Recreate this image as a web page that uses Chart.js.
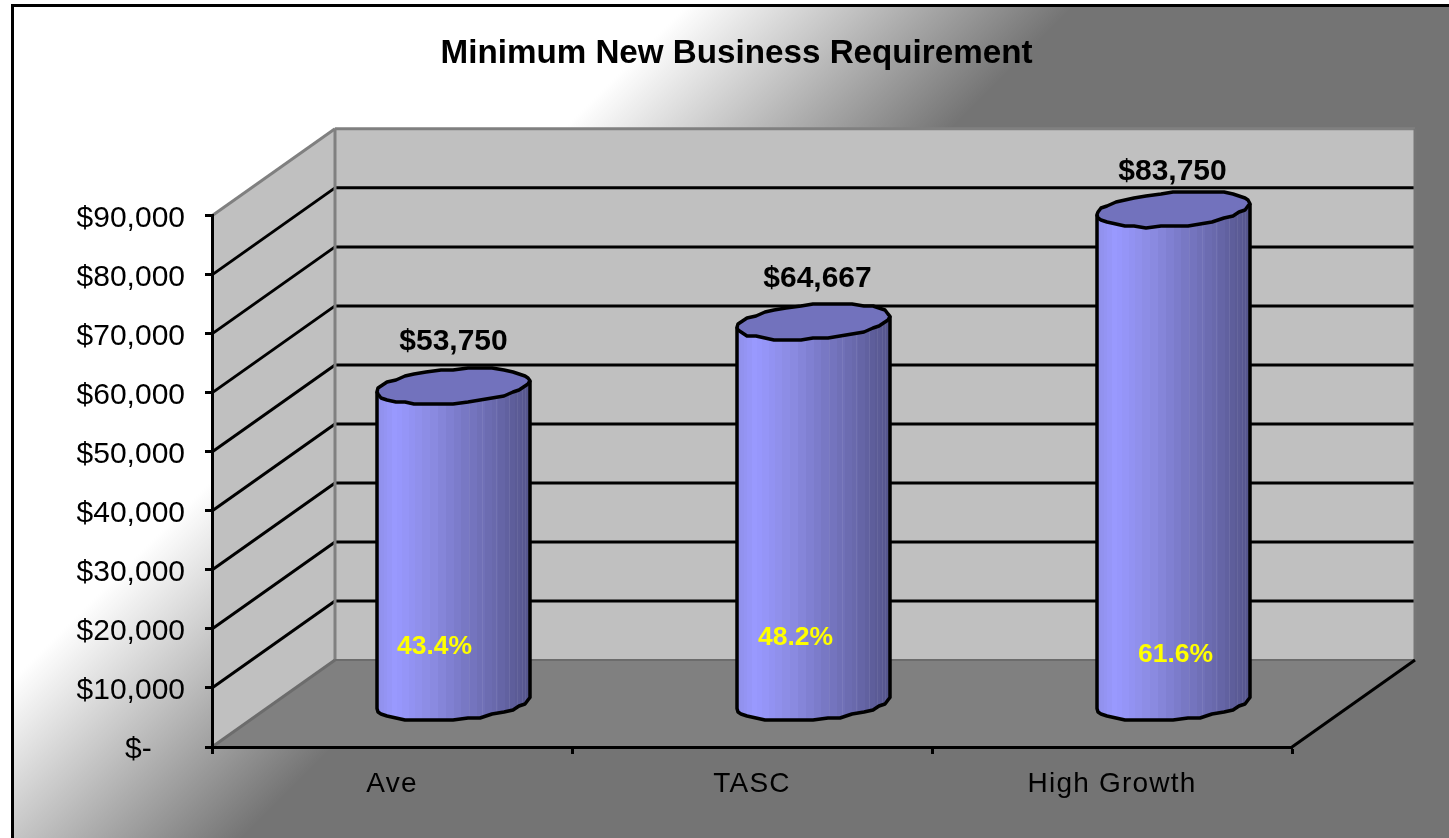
<!DOCTYPE html>
<html>
<head>
<meta charset="utf-8">
<title>Minimum New Business Requirement</title>
<script src="https://cdn.jsdelivr.net/npm/chart.js@4"></script>
<style>
    html, body { margin: 0; padding: 0; background: #fff; overflow: hidden; }
    canvas { display: block; }
</style>
</head>
<body>
<canvas id="requirementChart" width="1449" height="838"></canvas>
<script>
const categories = ["Ave", "TASC", "High Growth"];
const requirementValues = [53750, 64667, 83750];
const sharePercents = [43.4, 48.2, 61.6];
const yTickLabels = ["$-    ", "$10,000", "$20,000", "$30,000", "$40,000", "$50,000", "$60,000", "$70,000", "$80,000", "$90,000"];

// oblique depth of the 3D box, in pixels
const DEPTH_X = 123;
const DEPTH_Y = 87;
const FONT = '"Liberation Sans", Arial, sans-serif';

// label placement relative to the top / base of each cylinder
const valueLabelShift = [0, 4, -1];
const valueLabelLift = [45, 43, 37];
const shareLabelShift = [-19, -18, 2];
const shareLabelLift = [56, 65, 48];

const WALL = "#c0c0c0";
const FLOOR = "#808080";
const EDGE = "#808080";

function line(ctx, x1, y1, x2, y2, color, width) {
    ctx.strokeStyle = color;
    ctx.lineWidth = width;
    ctx.beginPath();
    ctx.moveTo(x1, y1);
    ctx.lineTo(x2, y2);
    ctx.stroke();
}

function fillPoly(ctx, pts, color) {
    ctx.fillStyle = color;
    ctx.beginPath();
    pts.forEach(function (p, i) {
        if (i === 0) ctx.moveTo(p[0], p[1]);
        else ctx.lineTo(p[0], p[1]);
    });
    ctx.closePath();
    ctx.fill();
}

// background panel with the diagonal white to grey fade and the black frame
function drawPanel(ctx, chart) {
    const w = chart.width, h = chart.height;
    ctx.fillStyle = "#fff";
    ctx.fillRect(0, 0, w, h);
    const grad = ctx.createLinearGradient(346, 346, 540, 540);
    grad.addColorStop(0, "#ffffff");
    grad.addColorStop(1, "#747474");
    ctx.fillStyle = grad;
    ctx.fillRect(14, 7, w - 14, h - 7);
    ctx.fillStyle = "#000";
    ctx.fillRect(11, 4, w - 11, 3);
    ctx.fillRect(11, 4, 3, h - 4);
}

function drawBox(ctx, chart) {
    const area = chart.chartArea;
    const yScale = chart.scales.y;
    const l = area.left, r = area.right, t = area.top, b = area.bottom;

    // side wall, back wall, floor
    fillPoly(ctx, [[l, t], [l + DEPTH_X, t - DEPTH_Y], [l + DEPTH_X, b - DEPTH_Y], [l, b]], WALL);
    fillPoly(ctx, [[l + DEPTH_X, t - DEPTH_Y], [r + DEPTH_X, t - DEPTH_Y], [r + DEPTH_X, b - DEPTH_Y], [l + DEPTH_X, b - DEPTH_Y]], WALL);
    fillPoly(ctx, [[l, b], [l + DEPTH_X, b - DEPTH_Y], [r + DEPTH_X, b - DEPTH_Y], [r, b]], FLOOR);

    // gridlines run back along the side wall and across the back wall
    yScale.ticks.forEach(function (tick) {
        if (tick.value === 0 || tick.value === yScale.max) return;
        const y = yScale.getPixelForValue(tick.value);
        line(ctx, l, y, l + DEPTH_X, y - DEPTH_Y, "#000", 3);
        line(ctx, l + DEPTH_X, y - DEPTH_Y, r + DEPTH_X, y - DEPTH_Y, "#000", 3);
    });

    line(ctx, l, t, l + DEPTH_X, t - DEPTH_Y, EDGE, 3);
    line(ctx, l + DEPTH_X, t - DEPTH_Y, r + DEPTH_X, t - DEPTH_Y, EDGE, 3);
    line(ctx, l + DEPTH_X, t - DEPTH_Y, l + DEPTH_X, b - DEPTH_Y, EDGE, 3);
    line(ctx, r + DEPTH_X, t - DEPTH_Y, r + DEPTH_X, b - DEPTH_Y, "#767676", 3);
    line(ctx, l, b, l + DEPTH_X, b - DEPTH_Y, "#6c6c6c", 3);
    line(ctx, l + DEPTH_X, b - DEPTH_Y, r + DEPTH_X, b - DEPTH_Y, "#6c6c6c", 2);
    line(ctx, r, b, r + DEPTH_X, b - DEPTH_Y, "#000", 3);
}

// a tilted ellipse as a coarse polygon, points snapped so the edge steps
function ringPoint(cx, cy, rx, deg) {
    const t = deg * Math.PI / 180;
    const x = cx + rx * Math.cos(t);
    const y = cy + 17 * Math.sin(t) - 5.5 * Math.cos(t);
    return [Math.round(x / 3) * 3, Math.round(y / 2) * 2];
}

function shadeAt(u) {
    const stops = [[0, 143, 143, 232], [0.12, 153, 153, 255], [0.37, 138, 138, 224], [0.57, 120, 120, 197], [0.78, 104, 104, 171], [1, 84, 84, 138]];
    for (let i = 1; i < stops.length; i++) {
        if (u <= stops[i][0]) {
            const a = stops[i - 1], b = stops[i];
            const k = (u - a[0]) / (b[0] - a[0]);
            const c = [1, 2, 3].map(function (n) { return Math.round(a[n] + (b[n] - a[n]) * k); });
            return "rgb(" + c.join(",") + ")";
        }
    }
    return "rgb(84,84,138)";
}

function drawCylinder(ctx, cx, topY, baseY, rx) {
    const left = cx - rx, right = cx + rx;
    const outline = [];
    outline.push([left, topY + 5.5]);
    outline.push([left, baseY + 5.5]);
    for (let d = 170; d > 0; d -= 10) outline.push(ringPoint(cx, baseY, rx, d));
    outline.push([right, baseY - 5.5]);
    outline.push([right, topY - 5.5]);

    // body, painted as vertical facets
    ctx.save();
    ctx.beginPath();
    outline.forEach(function (p, i) {
        if (i === 0) ctx.moveTo(p[0], p[1]);
        else ctx.lineTo(p[0], p[1]);
    });
    ctx.closePath();
    ctx.clip();
    for (let d = 180; d > 0; d -= 6) {
        const x1 = Math.round(cx + rx * Math.cos(d * Math.PI / 180));
        const x2 = Math.round(cx + rx * Math.cos((d - 6) * Math.PI / 180));
        ctx.fillStyle = shadeAt(((x1 + x2) / 2 - left) / (2 * rx));
        ctx.fillRect(x1, topY - 10, x2 - x1 + 1, baseY - topY + 40);
    }
    [78, 68, 56, 43, 34, 26, 21].forEach(function (d) {
        const x = Math.round(cx + rx * Math.cos(d * Math.PI / 180)) + 0.5;
        line(ctx, x, topY, x, baseY + 30, "rgba(255,255,255,0.07)", 1);
    });
    ctx.restore();

    ctx.lineJoin = "round";
    ctx.strokeStyle = "#000";
    ctx.lineWidth = 3.5;
    ctx.beginPath();
    outline.forEach(function (p, i) {
        if (i === 0) ctx.moveTo(p[0], p[1]);
        else ctx.lineTo(p[0], p[1]);
    });
    ctx.stroke();

    // top cap
    ctx.beginPath();
    ctx.moveTo(right, topY - 5.5);
    for (let d = 10; d < 360; d += 10) {
        const p = d === 180 ? [left, topY + 5.5] : ringPoint(cx, topY, rx, d);
        ctx.lineTo(p[0], p[1]);
    }
    ctx.closePath();
    ctx.fillStyle = "#7272bd";
    ctx.fill();
    ctx.stroke();
}

// runs once per scale so the library's own label drawing gets a small tweak
function tweakLabels(scale, setup, reset) {
    if (scale.labelsTweaked) return;
    scale.labelsTweaked = true;
    const drawLabels = scale.drawLabels;
    scale.drawLabels = function (area) {
        setup(this.ctx);
        drawLabels.call(this, area);
        reset(this.ctx);
    };
}

const cylinderPlugin = {
    id: "cylinders",
    afterLayout(chart) {
        // the title sits over the panel inside the frame, not over the page
        chart.titleBlock.left = 24;
        chart.titleBlock.right = 1449;
    },
    beforeDraw(chart) {
        const ctx = chart.ctx;
        ctx.save();
        drawPanel(ctx, chart);
        drawBox(ctx, chart);
        ctx.restore();
    },
    afterDatasetsDraw(chart) {
        const ctx = chart.ctx;
        const bars = chart.getDatasetMeta(0).data;
        ctx.save();
        bars.forEach(function (bar, i) {
            const cx = bar.x + DEPTH_X / 2;
            const topY = bar.y - DEPTH_Y / 2;
            const baseY = bar.base - DEPTH_Y / 2;
            drawCylinder(ctx, cx, topY, baseY, bar.width / 2);

            ctx.textAlign = "center";
            ctx.textBaseline = "middle";
            ctx.fillStyle = "#000";
            ctx.font = "bold 30px " + FONT;
            ctx.fillText("$" + requirementValues[i].toLocaleString("en-US"), cx + valueLabelShift[i], topY - valueLabelLift[i]);

            ctx.fillStyle = "#ffff00";
            ctx.font = "bold 26.5px " + FONT;
            ctx.fillText(sharePercents[i].toFixed(1) + "%", cx + shareLabelShift[i], baseY - shareLabelLift[i]);
        });
        ctx.restore();
    }
};

new Chart("requirementChart", {
    type: "bar",
    plugins: [cylinderPlugin],
    data: {
        labels: categories,
        datasets: [{
            data: requirementValues,
            backgroundColor: "transparent",
            borderWidth: 0,
            barPercentage: 0.85,
            categoryPercentage: 0.5
        }]
    },
    options: {
        responsive: false,
        animation: false,
        layout: { padding: { left: 0, right: 157, top: 0, bottom: 0 } },
        plugins: {
            legend: { display: false },
            tooltip: { enabled: false },
            title: {
                display: true,
                text: "Minimum New Business Requirement",
                color: "#000",
                font: { family: FONT, size: 33.2, weight: "bold" },
                padding: { top: 34, bottom: 142 }
            }
        },
        scales: {
            x: {
                afterFit(scale) { scale.height = 91; },
                afterUpdate(scale) {
                    // category names are set slightly spaced out
                    tweakLabels(scale,
                        function (ctx) { ctx.letterSpacing = "1.2px"; },
                        function (ctx) { ctx.letterSpacing = "0px"; });
                },
                border: { display: true, color: "#000", width: 3 },
                grid: { drawOnChartArea: false, tickColor: "#000", tickWidth: 3, tickLength: 7 },
                ticks: { color: "#000", padding: 13, maxRotation: 0, font: { family: FONT, size: 28 } }
            },
            y: {
                min: 0,
                max: 90000,
                afterFit(scale) { scale.width = 212; },
                afterUpdate(scale) {
                    // value labels hang a little below their tick marks
                    tweakLabels(scale,
                        function (ctx) { ctx.translate(0, 3); },
                        function (ctx) { ctx.translate(0, -3); });
                },
                border: { display: true, color: "#000", width: 3 },
                grid: { drawOnChartArea: false, tickColor: "#000", tickWidth: 3, tickLength: 7 },
                ticks: {
                    stepSize: 10000,
                    color: "#000",
                    padding: 20,
                    font: { family: FONT, size: 30 },
                    callback: function (value, index) { return yTickLabels[index]; }
                }
            }
        }
    }
});
</script>
</body>
</html>
